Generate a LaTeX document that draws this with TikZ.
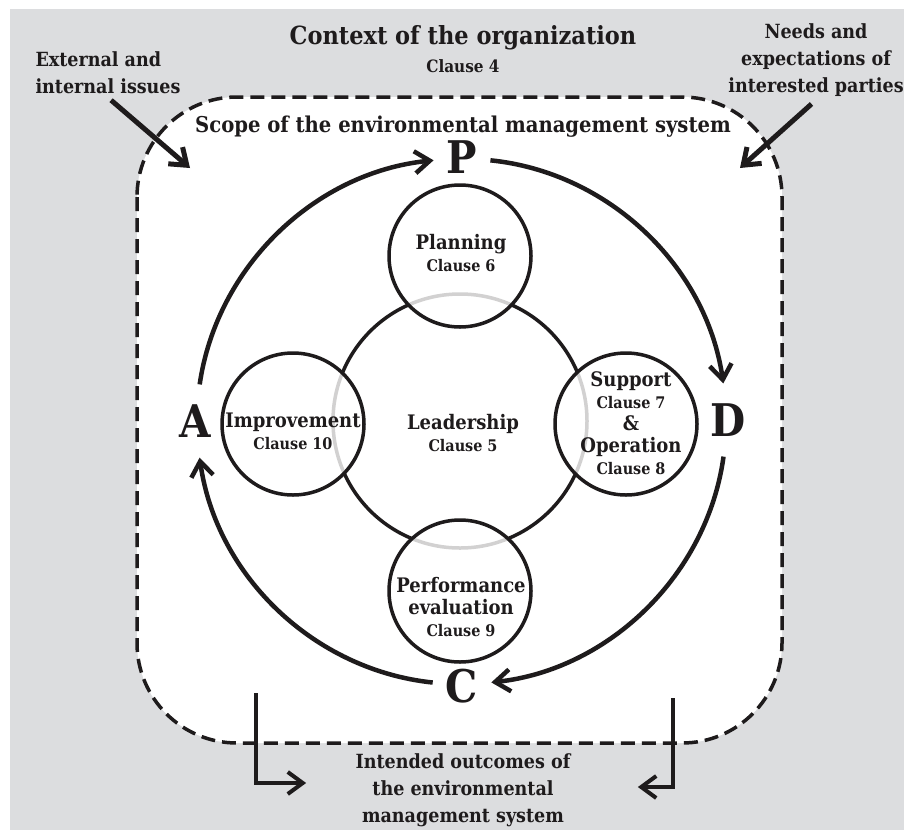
\documentclass[tikz,border=0pt]{standalone}
\usepackage{fontspec}
\setmainfont{DejaVu Serif Condensed}
\usetikzlibrary{positioning}
\usetikzlibrary{arrows.meta}
\definecolor{bggray}{RGB}{220,221,223}
\definecolor{ink}{RGB}{30,27,28}
\newcommand{\cl}[1]{{\fontsize{16}{20}\selectfont #1}}
\tikzset{
        every node/.style={align=center,text=ink,font=\bfseries},
        >={Straight Barb[length=15pt,width=22pt]},
        title/.style={font=\fontsize{25}{28}\selectfont\bfseries},
        clause/.style={font=\fontsize{17}{20}\selectfont\bfseries},
        side/.style={font=\fontsize{19.5}{27}\selectfont\bfseries},
        scope/.style={font=\fontsize{21.8}{25}\selectfont\bfseries},
        phase/.style={font=\fontsize{45}{45}\selectfont\bfseries,inner xsep=13pt,inner ysep=20pt},
        ctext/.style={font=\fontsize{20}{22}\selectfont\bfseries},
        scopebox/.style={draw=ink,fill=white,line width=3.5pt,dash pattern=on 14pt off 7pt,rounded corners=100pt},
        bigcirc/.style={circle,draw=ink,line width=3.5pt,minimum size=254pt,inner sep=0pt},
        smallcirc/.style={circle,draw=ink,line width=3.5pt,minimum size=142pt,inner sep=0pt,fill=white,fill opacity=.8},
        cycarrow/.style={draw=ink,line width=4.5pt,->,bend left=38,looseness=.94},
        inarrow/.style={draw=ink,line width=5pt,->},
        outarrow/.style={draw=ink,line width=4pt,->},
        }

\begin{document}
\begin{tikzpicture}[x=1pt,y=-1pt]
	\useasboundingbox (0,0) rectangle (904,830);
	% background
	\fill[bggray] (10,9) rectangle (904,830);

	% scope of the EMS
	\draw[scopebox] (137,97) rectangle (782,743);

	% top texts
	\node[title] (ctx) at (463,38) {Context of the organization};
	\node[clause] (ctxcl) at (463,66) {Clause 4};
	\node[side,align=left,anchor=west] (issues) at (32,73) {External and\\internal issues};
	\node[side] (parties) at (816,60) {Needs and\\expectations of\\interested parties};
	\node[scope] (scope) at (463,127) {Scope of the environmental management system};

	% PDCA letters
	\node[phase] (P) at (462,157) {P};
	\node[phase] (D) at (728,420) {D};
	\node[phase] (C) at (462,686) {C};
	\node[phase] (A) at (195,421) {A};

	% circles
	\node[bigcirc] (lead) at (460,421) {};
	\node[smallcirc] (plan) at (460,256) {};
	\node[smallcirc] (impr) at (293,424) {};
	\node[smallcirc] (supp) at (626,424) {};
	\node[smallcirc] (perf) at (460,591) {};

	% circle texts
	\node[ctext] (plantxt) at (461,253) {Planning\\\cl{Clause 6}};
	\node[ctext] (leadtxt) at (463,433) {Leadership\\\cl{Clause 5}};
	\node[ctext] (imprtxt) at (293,431) {Improvement\\\cl{Clause 10}};
	\node[ctext] (supptxt) at (631,423) {Support\\\cl{Clause 7}\\\&\\Operation\\\cl{Clause 8}};
	\node[ctext] (perftxt) at (461,607) {Performance\\evaluation\\\cl{Clause 9}};

	% PDCA cycle
	\draw[cycarrow] (A) to (P);
	\draw[cycarrow] (P) to (D);
	\draw[cycarrow] (D) to (C);
	\draw[cycarrow] (C) to (A);

	% inputs
	\coordinate (issin) at (190,168);
	\coordinate (partin) at (740,168);
	\draw[inarrow,shorten <=4pt] (issues.south) -- (issin);
	\draw[inarrow,shorten <=6pt] (parties.south) -- (partin);

	% outcomes
	\node[side] (outcome) at (463,790) {Intended outcomes of\\the environmental\\management system};
	\coordinate (outl) at (256,693);
	\coordinate (outr) at (673,698);
	\draw[outarrow,shorten >=46pt] (outl) |- ([yshift=7pt]outcome.west);
	\draw[outarrow,shorten >=64pt] (outr) |- ([yshift=3pt]outcome.east);
\end{tikzpicture}
\end{document}
